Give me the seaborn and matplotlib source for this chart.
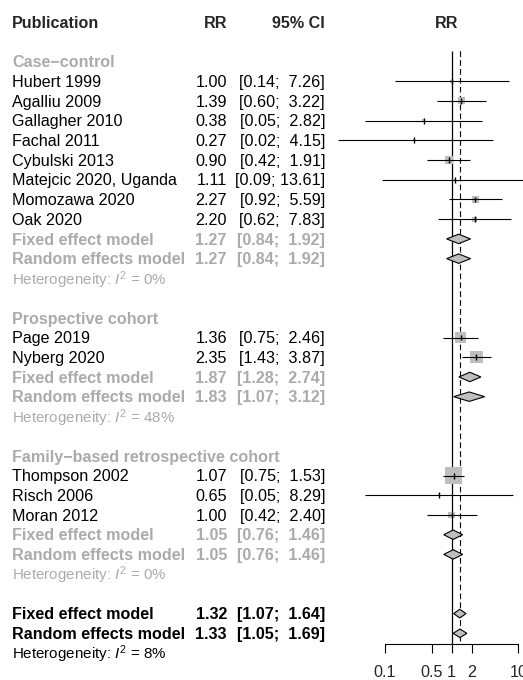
import numpy as np
import pandas as pd
import matplotlib
matplotlib.use("Agg")
import matplotlib.pyplot as plt
import seaborn as sns

# ---- study-level data -------------------------------------------------------
studies = ["Hubert 1999", "Agalliu 2009", "Gallagher 2010", "Fachal 2011",
           "Cybulski 2013", "Matejcic 2020, Uganda", "Momozawa 2020", "Oak 2020",
           "Page 2019", "Nyberg 2020",
           "Thompson 2002", "Risch 2006", "Moran 2012"]
design = (["Case−control"] * 8 + ["Prospective cohort"] * 2
          + ["Family−based retrospective cohort"] * 3)
rr = [1.00, 1.39, 0.38, 0.27, 0.90, 1.11, 2.27, 2.20, 1.36, 2.35, 1.07, 0.65, 1.00]
ci_low = [0.14, 0.60, 0.05, 0.02, 0.42, 0.09, 0.92, 0.62, 0.75, 1.43, 0.75, 0.05, 0.42]
ci_high = [7.26, 3.22, 2.82, 4.15, 1.91, 13.61, 5.59, 7.83, 2.46, 3.87, 1.53, 8.29, 2.40]
weight = [1.2, 6.4, 1.1, 0.6, 7.9, 0.7, 5.6, 2.8, 12.9, 18.3, 35.7, 0.7, 6.0]

# ---- subgroup summaries -----------------------------------------------------
groups = ["Case−control", "Prospective cohort", "Family−based retrospective cohort"]
fixed_rr = [1.27, 1.87, 1.05]
fixed_low = [0.84, 1.28, 0.76]
fixed_high = [1.92, 2.74, 1.46]
random_rr = [1.27, 1.83, 1.05]
random_low = [0.84, 1.07, 0.76]
random_high = [1.92, 3.12, 1.46]
group_i2 = [0, 48, 0]

# ---- overall summaries ------------------------------------------------------
overall_fixed = (1.32, 1.07, 1.64)
overall_random = (1.33, 1.05, 1.69)
overall_i2 = 8

axis_ticks = [0.1, 0.5, 1, 2, 10]
axis_labels = ["0.1", "0.5", "1", "2", "10"]

# ---- styling ----------------------------------------------------------------
sns.set_theme(style="white")
plt.rcParams["font.family"] = ["Liberation Sans", "DejaVu Sans"]
plt.rcParams["mathtext.fontset"] = "custom"
plt.rcParams["mathtext.rm"] = "Liberation Sans"
plt.rcParams["mathtext.it"] = "Liberation Sans:italic"

GREY_TXT = "#ABABAB"
GREY_FILL = "#BEBEBE"
FS = 11.6
FS_HET = 10.9

W, H = 523, 680
ROW0, ROWH = 22.0, 19.72          # pixel centre of first row, row height
PX_ONE, PX_DEC = 451.7, 66.67     # x pixel of RR = 1, pixels per decade


def row_of(py):
    return (py - ROW0) / ROWH


fig = plt.figure(figsize=(W / 100, H / 100), dpi=100)
ylim = (row_of(H), row_of(0))

ax_t = fig.add_axes([0, 0, 1, 1])
ax_t.set_xlim(0, W)
ax_t.set_ylim(*ylim)
ax_t.axis("off")

f_left = 330
ax_f = fig.add_axes([f_left / W, 0, (W - f_left) / W, 1])
ax_f.patch.set_alpha(0)
ax_f.set_xscale("log")
ax_f.set_xlim(10 ** ((f_left - PX_ONE) / PX_DEC), 10 ** ((W - PX_ONE) / PX_DEC))
ax_f.set_ylim(*ylim)

X_NAME, X_RR, X_CI, X_HDR = 12, 227, 325, 447


def fmt_ci(lo, hi):
    return f"[{lo:.2f}; {hi:5.2f}]"


def text_row(r, name, est=None, lo=None, hi=None, color="black", weight_="normal"):
    yb = r + 0.29
    ax_t.text(X_NAME, yb, name, ha="left", va="baseline", fontsize=FS,
              color=color, fontweight=weight_)
    if est is not None:
        ax_t.text(X_RR, yb, f"{est:.2f}", ha="right", va="baseline", fontsize=FS,
                  color=color, fontweight=weight_)
        ax_t.text(X_CI, yb, fmt_ci(lo, hi), ha="right", va="baseline", fontsize=FS,
                  color=color, fontweight=weight_)


def het_row(r, i2, color):
    ax_t.text(X_NAME, r + 0.32, rf"Heterogeneity: $I^2$ = {i2}%", ha="left",
              va="baseline", fontsize=FS_HET, color=color)


def diamond(r, est, lo, hi, h=0.24):
    ax_f.fill([lo, est, hi, est], [r, r - h, r, r + h], facecolor=GREY_FILL,
              edgecolor="black", linewidth=0.8, zorder=4)


# header
for x, s, ha in [(X_NAME, "Publication", "left"), (X_RR, "RR", "right"),
                 (X_CI, "95% CI", "right"), (X_HDR, "RR", "center")]:
    ax_t.text(x, 0.29, s, ha=ha, va="baseline", fontsize=FS, fontweight="bold")

# lay out rows
df = pd.DataFrame({"study": studies, "design": design, "rr": rr,
                   "lo": ci_low, "hi": ci_high, "weight": weight})
rows = []
r = 2
for g, grp in enumerate(groups):
    text_row(r, grp, color=GREY_TXT, weight_="bold")
    r += 1
    for idx in df.index[df["design"] == grp]:
        rows.append((idx, r))
        text_row(r, df.at[idx, "study"], df.at[idx, "rr"], df.at[idx, "lo"], df.at[idx, "hi"])
        r += 1
    text_row(r, "Fixed effect model", fixed_rr[g], fixed_low[g], fixed_high[g],
             color=GREY_TXT, weight_="bold")
    diamond(r, fixed_rr[g], fixed_low[g], fixed_high[g])
    r += 1
    text_row(r, "Random effects model", random_rr[g], random_low[g], random_high[g],
             color=GREY_TXT, weight_="bold")
    diamond(r, random_rr[g], random_low[g], random_high[g])
    r += 1
    het_row(r, group_i2[g], GREY_TXT)
    r += 2

text_row(r, "Fixed effect model", *overall_fixed, weight_="bold")
diamond(r, *overall_fixed, h=0.22)
r += 1
text_row(r, "Random effects model", *overall_random, weight_="bold")
diamond(r, *overall_random, h=0.22)
r += 1
het_row(r, overall_i2, "black")

df["row"] = [dict(rows)[i] for i in df.index]

# weight squares
sq_max = (17 * 0.72) ** 2
sns.scatterplot(data=df, x="rr", y="row", size="weight", sizes=(0, sq_max),
                size_norm=(0, max(weight)), marker="s", color=GREY_FILL,
                linewidth=0, legend=False, ax=ax_f, zorder=2)

# confidence intervals and point estimates
ax_f.hlines(df["row"], df["lo"], df["hi"], color="black", linewidth=0.8, zorder=3)
ax_f.vlines(df["rr"], df["row"] - 0.15, df["row"] + 0.15, color="black",
            linewidth=1.0, zorder=3)

# reference lines
axis_row = row_of(643.5)
top_row = row_of(51)
ax_f.vlines(1, top_row, axis_row, color="black", linewidth=0.9, zorder=1)
ax_f.plot([overall_fixed[0]] * 2, [top_row, row_of(641)], color="black",
          linewidth=0.8, linestyle=(0, (4, 4)), zorder=1)
ax_f.plot([overall_random[0]] * 2, [top_row, row_of(641)], color="black",
          linewidth=0.8, linestyle=(0, (1, 3)), zorder=1)

# x axis
for side in ["top", "left", "right"]:
    ax_f.spines[side].set_visible(False)
ax_f.spines["bottom"].set_position(("data", axis_row))
ax_f.spines["bottom"].set_bounds(0.1, 10)
ax_f.spines["bottom"].set_linewidth(0.8)
ax_f.spines["bottom"].set_color("black")
ax_f.set_xticks(axis_ticks)
ax_f.set_xticklabels(axis_labels)
ax_f.xaxis.set_minor_locator(matplotlib.ticker.NullLocator())
ax_f.tick_params(axis="x", which="major", direction="out", length=6.8, width=0.8,
                 color="black", labelsize=FS, pad=9, bottom=True)
ax_f.set_yticks([])
ax_f.set_xlabel("")
ax_f.set_ylabel("")

fig.savefig("out.png", dpi=100)
